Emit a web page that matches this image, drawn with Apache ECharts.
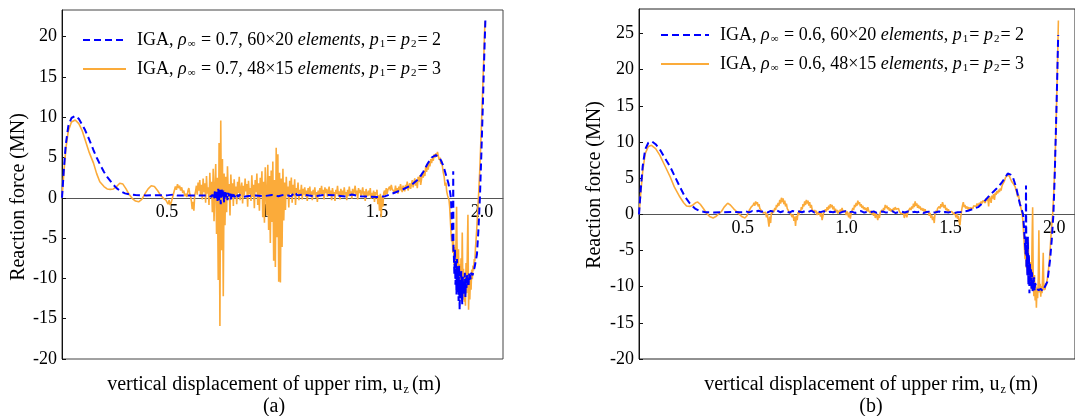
<!DOCTYPE html>
<html>
<head>
<meta charset="utf-8">
<script src="https://cdn.jsdelivr.net/npm/echarts@6/dist/echarts.min.js"></script>
<style>
  html, body { margin: 0; padding: 0; background: #fff; }
  #chart { width: 1075px; height: 416px; }
</style>
</head>
<body>
<div id="chart"></div>
<script>
// ---------- axis ticks ----------
const xTickValues = [0.5, 1.0, 1.5, 2.0];
const yTicksA = [-20, -15, -10, -5, 0, 5, 10, 15, 20];
const yTicksB = [-20, -15, -10, -5, 0, 5, 10, 15, 20, 25];

// ---------- panel (a): rho_inf = 0.7 ----------
// quadratic mesh 60x20 (blue dashed)
const blueA_start = [[0,0],[0.008,3.2],[0.018,6.6],[0.03,8.9],[0.045,9.9],[0.063,10.15],[0.08,9.8],[0.095,9.1],[0.11,8.4],[0.13,7.2],[0.15,5.9],[0.165,5.0],[0.182,4.1],[0.2,3.2],[0.215,2.6],[0.23,2.1],[0.245,1.6],[0.26,1.2],[0.28,0.8],[0.3,0.55],[0.325,0.4],[0.35,0.35],[0.4,0.3],[0.45,0.32],[0.5,0.3],[0.53,0.4],[0.55,0.28],[0.6,0.3],[0.65,0.28],[0.69,0.3]];
const blueA_burst_x0 = 0.70, blueA_burst_dx = 0.004;
const blueA_burst = [0.3,0.2,0.5,0.1,0.4, 0.6,-0.2,0.8,0.0,0.9, -0.5,1.1,-0.3,1.0,-0.8, 1.2,-0.1,0.9,-0.6,0.8, 0.1,0.7,-0.3,0.6,0.2, 0.5,-0.2,0.6,0.1,0.4, 0.2,0.5,0.0,0.4,0.3, 0.1,0.4,0.2,0.3,0.1];
const blueA_mid = [[0.88,0.2],[0.92,0.3],[0.96,0.2],[1.0,0.35],[1.03,0.2],[1.06,0.4],[1.09,0.2],[1.11,0.7],[1.12,0.3],[1.15,0.4],[1.2,0.2],[1.25,0.35],[1.3,0.3],[1.35,0.15],[1.38,0.4],[1.42,0.2],[1.46,0.15],[1.5,0.1],[1.54,0.2],[1.58,0.6],[1.62,1.0],[1.66,1.5],[1.70,2.4],[1.72,3.2],[1.74,4.2],[1.76,5.0],[1.78,5.3],[1.80,4.9],[1.817,3.9],[1.83,2.7],[1.84,1.8],[1.848,0.7],[1.852,0.0],[1.856,-2.8],[1.86,-5.6],[1.862,-4.0],[1.863,3.3],[1.864,-6.5]];
const blueA_dip_x0 = 1.866, blueA_dip_dx = 0.0025;
const blueA_dip = [-7.2,-9.5,-6.4,-10.8,-8.1,-12.0,-7.6,-11.3,-9.0,-12.8,-8.4,-13.9,-10.2,-12.5,-9.1,-11.8,-13.2,-9.8,-12.1,-10.5,-11.6,-9.3,-12.4,-10.0,-11.2,-9.6,-10.8,-9.9,-11.0,-9.4,-10.3,-9.6,-10.1,-9.3];
const blueA_end = [[1.955,-9.6],[1.965,-8.6],[1.976,-7.0],[1.983,-4.0],[1.99,0],[1.997,5.5],[2.004,11.5],[2.01,17],[2.016,22.0]];

// cubic mesh 48x15 (orange)
const orangeA_start = [[0,0],[0.008,2.8],[0.018,6.0],[0.03,8.3],[0.045,9.4],[0.063,9.65],[0.08,9.2],[0.095,8.4],[0.11,7.2],[0.13,5.6],[0.15,4.3],[0.165,3.0],[0.18,2.0],[0.2,1.4],[0.215,1.1],[0.23,1.05],[0.245,1.1],[0.26,1.4],[0.275,1.8],[0.29,1.7],[0.305,1.1],[0.32,0.4],[0.335,-0.1],[0.35,-0.4],[0.365,-0.5],[0.38,-0.2],[0.395,0.5],[0.41,1.1],[0.425,1.5],[0.44,1.4],[0.455,0.9],[0.47,0.3],[0.485,-0.1],[0.495,-0.3],[0.505,-0.8],[0.51,-0.3],[0.515,-0.9],[0.52,-0.6],[0.528,0.2],[0.535,0.9],[0.54,1.4],[0.545,1.0],[0.55,1.7],[0.555,1.2],[0.56,1.5],[0.565,0.9],[0.57,1.3],[0.575,0.6],[0.58,0.9],[0.585,0.2],[0.59,0.5],[0.595,0.1]];
const orangeA_noise_x0 = 0.60, orangeA_noise_dx = 0.004;
const orangeA_noise = [
  0.9,1.2,0.6,0.2,-0.4, -1.4,-0.5,-1.6,0.3,0.8, 1.5,0.4,1.9,0.9,2.2, 0.3,1.6,-0.2,2.4,0.7,
  1.8,-0.6,2.7,0.5,1.3, -0.9,3.1,0.2,2.0,-1.8, 3.6,-2.9,1.4,4.2,-4.5, 2.5,-10.2,6.8,-15.9,9.6,
  -6.5,4.8,-12.2,3.0,-3.4, 2.6,-1.8,3.9,0.1,1.7, -2.2,2.9,0.4,1.8,-1.0, 2.3,0.2,1.4,-0.8,2.0,
  0.6,2.6,-0.3,1.1,1.9, -0.7,1.5,0.3,2.4,0.8, 1.7,-1.1,2.1,0.5,1.2, -0.4,2.8,0.1,1.6,-1.3,
  2.2,0.7,3.0,-0.9,1.8, -1.6,2.5,0.4,3.3,-2.4, 2.0,-3.1,3.8,0.6,-2.2, 4.1,-4.0,2.7,-5.6,3.4,
  -3.0,4.5,-7.8,2.2,-8.6, 6.2,-4.9,5.4,-10.4,3.1, -10.5,2.4,-6.1,3.6,-2.8, 1.9,-1.5,2.6,0.3,1.4,
  -1.2,2.1,0.5,2.5,-0.6, 1.6,0.2,2.3,-0.9,1.2, 0.6,1.9,-0.3,1.0,0.3, 1.6,-0.2,1.1,0.4,1.3,
  0.1,0.9,-0.4,1.2,0.5, 1.4,0.2,0.8,-0.3,1.0, 0.4,1.3,0.0,0.7,-0.5, 0.9,0.2,1.2,0.5,1.5,
  0.3,1.0,-0.2,1.3,0.6, 1.1,0.1,0.8,1.4,0.3, 0.9,-0.3,1.2,0.4,0.7, -0.4,1.0,0.5,1.5,0.2,
  0.8,-0.2,1.1,0.3,0.9, 0.1,1.3,0.4,0.7,-0.3, 1.0,0.2,1.4,0.5,0.8, -0.1,1.1,0.3,0.9,1.5,
  0.4,0.9,-0.2,1.2,0.6, 1.0,0.1,0.7,1.3,0.3, 0.8,-0.4,1.1,0.5,0.2, 0.9,0.3,1.2,-0.1,0.6,
  0.2,0.9,-0.5,0.7,0.4, 1.0,-0.8,0.3,-1.6,0.5, -2.4,0.2,-1.1,0.6,0.9, 0.3,1.2,0.5,1.0,0.8,
  1.4,0.9,1.6,1.1,1.3];
const orangeA_hump_x0 = 1.58, orangeA_hump_dx = 0.004;
const orangeA_hump = [1.0,0.6,1.5,0.8,1.2, 0.5,1.4,0.9,1.7,1.1, 0.7,1.5,1.2,0.8,1.6, 1.3,2.0,0.9,1.4,1.8, 1.1,1.7,2.2,1.3,1.9, 2.4,1.5,2.1,1.2,2.6, 2.0,2.8,1.6,2.3,3.1, 2.5,3.4,2.7,3.9,3.2, 4.1,3.5,4.5,3.9,4.8, 4.3,5.0,4.6,5.4,5.0, 5.5,5.1,5.7,5.2,4.7, 5.0,4.2,4.6,3.8,3.1, 2.6,1.5,1.9,0.8,0.3];
const orangeA_dip_x0 = 1.84, orangeA_dip_dx = 0.003;
const orangeA_dip = [0.2,-0.3,-1.1,-2.6,-4.1,-5.4,-4.6,-6.8,-5.2,-8.3,-6.1,-9.4,-5.7,-1.1,-7.9,-10.8,-6.4,-11.6,-8.2,-12.4,-7.5,-10.9,-4.3,-11.2,-8.8,-12.9,-9.6,-13.4,-8.1,-11.8,-6.9,-2.1,-13.9,-10.2,-12.6,-9.7,-11.4,-8.9,-10.1,-8.4,-9.0,-7.6,-7.9,-6.2,-5.1,-3.9,-2.4];
const orangeA_end = [[1.984,0.5],[1.99,3.8],[1.996,8.0],[2.002,12.5],[2.008,17.0],[2.014,21.9]];

// ---------- panel (b): rho_inf = 0.6 ----------
const blueB_start = [[0,0],[0.008,3.3],[0.018,6.7],[0.03,9.0],[0.045,9.9],[0.062,10.1],[0.08,9.7],[0.1,9.0],[0.12,8.0],[0.15,6.6],[0.17,5.4],[0.197,3.8],[0.22,2.5],[0.245,1.5],[0.27,0.8],[0.293,0.45],[0.32,0.3],[0.36,0.25],[0.4,0.3],[0.45,0.35],[0.485,0.3]];
const blueB_flat_x0 = 0.50, blueB_flat_dx = 0.015;
const blueB_flat = [0.30,0.42,0.28,0.45,0.33,0.50,0.36,0.41,0.27,0.48, 0.35,0.52,0.30,0.44,0.38,0.25,0.47,0.34,0.40,0.29, 0.46,0.33,0.51,0.26,0.39,0.31,0.45,0.22,0.37,0.30, 0.41,0.18,0.35,0.43,0.27,0.38,0.20,0.34,0.46,0.25, 0.36,0.29,0.42,0.21,0.33,0.39,0.24,0.31,0.44,0.19, 0.30,0.37,0.26,0.40,0.23,0.35,0.28,0.42,0.20,0.32, 0.38,0.25,0.30,0.41,0.22,0.33,0.27,0.36,0.19,0.31, 0.34];
const blueB_hump = [[1.585,0.5],[1.633,1.0],[1.66,1.7],[1.69,2.66],[1.72,3.5],[1.745,4.3],[1.762,5.0],[1.776,5.65],[1.79,5.5],[1.80,5.2],[1.816,3.8],[1.834,1.5],[1.85,0.0],[1.855,-2.2],[1.86,-4.5],[1.862,-5.5],[1.864,4.0],[1.866,-7.5]];
const blueB_dip_x0 = 1.868, blueB_dip_dx = 0.0025;
const blueB_dip = [-4.2,-8.6,-3.1,-9.8,-5.5,-10.9,-6.8,-9.2,-7.4,-10.3,-8.0,-10.7,-9.1,-10.0,-8.7,-10.6,-9.5];
const blueB_end = [[1.915,-10.2],[1.925,-10.5],[1.935,-10.3],[1.945,-10.6],[1.955,-10.0],[1.967,-9.3],[1.98,-6.3],[1.988,-3.5],[1.996,0],[2.002,5],[2.008,11.6],[2.014,18.5],[2.019,24.8]];

const orangeB_start = [[0,0],[0.008,2.8],[0.018,6.0],[0.03,8.4],[0.045,9.4],[0.06,9.55],[0.08,9.1],[0.1,8.2],[0.12,7.0],[0.15,5.2],[0.17,3.8],[0.197,2.4],[0.215,1.6],[0.229,1.15],[0.245,1.1],[0.26,1.3],[0.272,1.6],[0.283,1.7],[0.295,1.4],[0.31,0.8],[0.325,0.2],[0.34,-0.3],[0.357,-0.5],[0.37,-0.3],[0.385,0.1],[0.397,0.4],[0.41,1.0],[0.427,1.55],[0.44,1.3],[0.455,0.8],[0.466,0.5],[0.48,0.1],[0.495,-0.3],[0.51,-0.5],[0.52,-0.2],[0.53,0.5],[0.54,1.0]];
const orangeB_noise_x0 = 0.55, orangeB_noise_dx = 0.004;
const orangeB_noise = [
  1.3,1.6,1.2,1.8,1.4, 1.7,1.1,1.4,0.8,1.0, 0.5,0.7,0.2,0.4,0.0, 0.3,-0.4,0.1,-0.8,-1.7,
  -0.3,-1.2,0.4,0.1,0.6, 0.3,0.9,0.6,1.3,1.0, 1.6,1.2,2.0,1.5,2.3, 1.7,2.2,1.4,1.9,1.1,
  1.5,0.8,1.0,0.4,0.6, 0.1,0.3,-0.4,0.0,-0.9, -0.3,-1.6,-0.2,-0.8,0.3, -0.1,0.6,0.2,1.0,0.7,
  1.4,1.1,1.8,1.3,2.0, 1.5,1.9,1.2,1.7,0.9, 1.3,0.7,0.9,0.3,0.6, 0.2,0.5,-0.1,0.3,0.0,
  0.4,-0.3,0.2,-0.8,-0.2, 0.3,0.1,0.7,0.4,1.0, 0.6,1.2,0.8,1.4,1.0, 1.3,0.7,1.1,0.5,0.8,
  0.3,0.6,0.1,0.5,0.2, 0.7,0.3,0.9,0.4,0.6, 0.2,0.5,-0.1,0.4,0.0, -0.4,0.3,-0.6,0.2,0.5,
  0.9,0.6,1.3,1.0,1.6, 1.2,1.9,1.4,1.7,1.1, 1.4,0.9,1.2,0.7,1.0, 0.6,0.9,0.4,1.0,0.5,
  0.7,0.2,0.5,0.0,0.3, -0.2,0.4,-0.5,0.1,-0.3, -0.8,0.0,-0.5,0.3,0.1, 0.6,0.3,0.9,0.6,1.3,
  0.9,1.2,0.7,1.0,0.5, 0.8,0.4,0.7,0.3,0.9, 0.6,1.0,0.7,0.9,0.5, 0.8,0.4,0.6,0.1,0.3,
  -0.1,0.2,-0.5,0.0,0.3, -0.4,0.2,0.5,0.3,0.9, 0.6,1.1,0.8,1.5,1.0, 1.8,1.2,1.5,0.9,1.3,
  0.8,1.1,0.6,0.9,0.5, 0.8,0.4,0.7,0.3,0.5, 0.1,0.4,-0.2,0.2,-0.5, -0.1,-0.8,-0.3,-1.2,0.2,
  0.5,0.2,0.8,0.6,1.1, 0.8,1.4,1.0,1.7,1.2, 0.9,1.3,0.6,0.9,0.4, 0.7,0.3,0.5,0.1,0.4,
  0.2,0.5,0.0,0.3,-0.4, 0.1,-0.6,-0.2,-1.0,-1.5, -0.3,0.6,1.2,1.7,1.0, 1.3,0.8,1.1];
const orangeB_hump_x0 = 1.58, orangeB_hump_dx = 0.004;
const orangeB_hump = [1.2,0.7,1.0,0.6,0.9, 0.7,1.1,0.8,1.2,1.0, 1.3,1.1,1.5,1.2,1.4, 1.6,1.3,1.8,1.5,1.9, 1.7,2.0,1.6,2.2,1.9, 2.3,1.1,2.5,2.1,1.6, 2.6,2.2,2.8,2.0,3.0, 2.7,3.2,2.9,3.4,3.1, 3.6,3.3,3.9,4.2,4.0, 4.6,5.0,4.8,5.4,5.6, 5.5,5.3,5.0,4.8,4.5, 4.6,4.2,4.4,3.8,3.3, 3.0,2.4,2.7,1.9,1.4, 0.8,0.3];
const orangeB_dip_x0 = 1.848, orangeB_dip_dx = 0.003;
const orangeB_dip = [-0.6,-1.9,-3.4,-4.9,-6.2,-5.0,-7.4,-6.1,-8.3,-3.5,-9.1,-7.2,-9.8,-6.6,-10.4,-4.1,1.0,-9.5,-11.3,-8.4,-11.9,-9.7,-12.9,-10.1,-11.6,-8.9,-2.2,-10.8,-9.6,-11.4,-9.9,-10.9,-8.6,-5.3,-10.5,-9.8,-10.4,-9.5,-9.8,-9.2,-8.7,-8.0,-7.1,-6.2,-5.0];
const orangeB_end = [[1.986,-2.2],[1.992,-0.2],[1.997,2.5],[2.002,6.0],[2.008,11.5],[2.014,18.5],[2.02,26.8]];

// ---------- legend text pieces ----------
const legendRho = ['0.7', '0.6'];
const legendMesh = ['60×20', '48×15'];
const legendOrder = ['2', '3'];
const panelTags = ['(a)', '(b)'];

// ---------- helpers ----------
// evenly sampled stretch -> [x, y] pairs
function sampled(x0, dx, ys) {
  return ys.map((y, i) => [Math.round((x0 + dx * i) * 10000) / 10000, y]);
}
function plainName(rho, mesh, p) {
  return 'IGA, ρ∞ = ' + rho + ', ' + mesh + ' elements, p1 = p2 = ' + p;
}
function richName(rho, mesh, p) {
  return '{f|IGA, }{i|ρ}{s|∞}{n| = ' + rho + ', ' + mesh + ' }{i|elements}{n|, }{i|p}{s|1}{n|= }{i|p}{s|2}{n|= ' + p + '}';
}

const blueA = [].concat(blueA_start, sampled(blueA_burst_x0, blueA_burst_dx, blueA_burst), blueA_mid,
  sampled(blueA_dip_x0, blueA_dip_dx, blueA_dip), blueA_end);
const orangeA = [].concat(orangeA_start, sampled(orangeA_noise_x0, orangeA_noise_dx, orangeA_noise),
  sampled(orangeA_hump_x0, orangeA_hump_dx, orangeA_hump), sampled(orangeA_dip_x0, orangeA_dip_dx, orangeA_dip), orangeA_end);
const blueB = [].concat(blueB_start, sampled(blueB_flat_x0, blueB_flat_dx, blueB_flat), blueB_hump,
  sampled(blueB_dip_x0, blueB_dip_dx, blueB_dip), blueB_end);
const orangeB = [].concat(orangeB_start, sampled(orangeB_noise_x0, orangeB_noise_dx, orangeB_noise),
  sampled(orangeB_hump_x0, orangeB_hump_dx, orangeB_hump), sampled(orangeB_dip_x0, orangeB_dip_dx, orangeB_dip), orangeB_end);

const SERIF = 'Liberation Serif';
const BLUE = '#0000ff';
const ORANGE = '#fbab3a';

const names = {};
const richLabels = {};
[0, 1].forEach(panel => {
  [0, 1].forEach(k => {
    const nm = plainName(legendRho[panel], legendMesh[k], legendOrder[k]);
    names[panel + '_' + k] = nm;
    richLabels[nm] = richName(legendRho[panel], legendMesh[k], legendOrder[k]);
  });
});

const txt = (extra) => Object.assign({ fontFamily: SERIF, fontSize: 18, fontWeight: 'normal', color: '#000', lineHeight: 22 }, extra || {});
const richStyles = {
  f: txt({ padding: [0, 0, 0, 6] }),
  n: txt(),
  i: txt({ fontStyle: 'italic' }),
  s: txt({ fontSize: 11, lineHeight: 11, padding: [9, 1, 0, 1] })
};

// geometry of the two plot frames
const gridA = { left: 62, top: 10, width: 441, height: 349 };
const gridB = { left: 639, top: 9, width: 439, height: 350 };
const yRangeA = [-20, 23.3];
const yRangeB = [-20, 28.4];
// distance from the frame bottom up to y = 0, so the x axis sits on the zero line
const zeroLift = (g, r) => -g.height * (0 - r[0]) / (r[1] - r[0]);

function makeLegend(panel, left, top, iconW) {
  return {
    orient: 'vertical', left: left, top: top,
    itemWidth: iconW, itemHeight: 14, itemGap: 9,
    data: [names[panel + '_0'], names[panel + '_1']],
    formatter: nm => richLabels[nm],
    itemStyle: { opacity: 0 },
    textStyle: { fontFamily: SERIF, fontSize: 18, color: '#000', rich: richStyles },
    selectedMode: false
  };
}

function makeX(gridIndex, g, r) {
  return {
    type: 'value', gridIndex: gridIndex, min: 0, max: 2.1,
    position: 'bottom', offset: zeroLift(g, r),
    axisLine: { onZero: false, lineStyle: { color: '#555', width: 1 } },
    axisTick: { show: false },
    splitLine: { show: false },
    axisLabel: {
      customValues: xTickValues, margin: 5,
      formatter: v => v.toFixed(1),
      fontFamily: SERIF, fontSize: 18, color: '#000'
    }
  };
}
function makeY(gridIndex, r, ticks) {
  return {
    type: 'value', gridIndex: gridIndex, min: r[0], max: r[1],
    axisLine: { show: true, onZero: false, lineStyle: { color: '#111', width: 1 } },
    axisTick: { show: true, inside: true, length: 4, customValues: ticks, lineStyle: { color: '#111' } },
    splitLine: { show: false },
    axisLabel: { customValues: ticks, margin: 5, fontFamily: SERIF, fontSize: 18, color: '#000' }
  };
}
function lineSeries(name, data, gridIndex, color, dashed, z) {
  return {
    type: 'line', name: name, data: data,
    xAxisIndex: gridIndex, yAxisIndex: gridIndex,
    showSymbol: false, symbol: 'none', z: z, clip: true,
    lineStyle: dashed ? { color: color, width: 2, type: [7, 4] } : { color: color, width: 1.6 },
    itemStyle: { color: color },
    emphasis: { disabled: true }
  };
}

const xTitle = '{n|vertical displacement of upper rim, u}{s|z}{n|(m)}';
const titleRich = {
  n: txt({ fontSize: 20 }),
  s: txt({ fontSize: 12, lineHeight: 12, padding: [9, 3, 0, 1] })
};

const chart = echarts.init(document.getElementById('chart'), null, { renderer: 'canvas' });
chart.setOption({
  animation: false,
  backgroundColor: '#fff',
  grid: [
    Object.assign({ show: true, borderColor: '#444', borderWidth: 1, backgroundColor: 'transparent' }, gridA),
    Object.assign({ show: true, borderColor: '#222', borderWidth: 1, backgroundColor: 'transparent' }, gridB)
  ],
  xAxis: [makeX(0, gridA, yRangeA), makeX(1, gridB, yRangeB)],
  yAxis: [makeY(0, yRangeA, yTicksA), makeY(1, yRangeB, yTicksB)],
  legend: [makeLegend(0, 77, 25, 43), makeLegend(1, 655, 20, 48)],
  title: [
    { text: xTitle, left: 269, top: 369, textAlign: 'center', textStyle: { fontWeight: 'normal', rich: titleRich } },
    { text: '{n|' + panelTags[0] + '}', left: 269, top: 391, textAlign: 'center', textStyle: { fontWeight: 'normal', rich: titleRich } },
    { text: xTitle, left: 866, top: 369, textAlign: 'center', textStyle: { fontWeight: 'normal', rich: titleRich } },
    { text: '{n|' + panelTags[1] + '}', left: 866, top: 391, textAlign: 'center', textStyle: { fontWeight: 'normal', rich: titleRich } }
  ],
  graphic: [
    { type: 'text', x: 19, y: 197, rotation: Math.PI / 2,
      style: { text: 'Reaction force (MN)', font: '20px ' + SERIF, fill: '#000', align: 'center', verticalAlign: 'middle' } },
    { type: 'text', x: 595, y: 185, rotation: Math.PI / 2,
      style: { text: 'Reaction force (MN)', font: '20px ' + SERIF, fill: '#000', align: 'center', verticalAlign: 'middle' } }
  ],
  series: [
    lineSeries(names['0_1'], orangeA, 0, ORANGE, false, 2),
    lineSeries(names['0_0'], blueA, 0, BLUE, true, 3),
    lineSeries(names['1_1'], orangeB, 1, ORANGE, false, 2),
    lineSeries(names['1_0'], blueB, 1, BLUE, true, 3)
  ]
});
</script>
</body>
</html>
